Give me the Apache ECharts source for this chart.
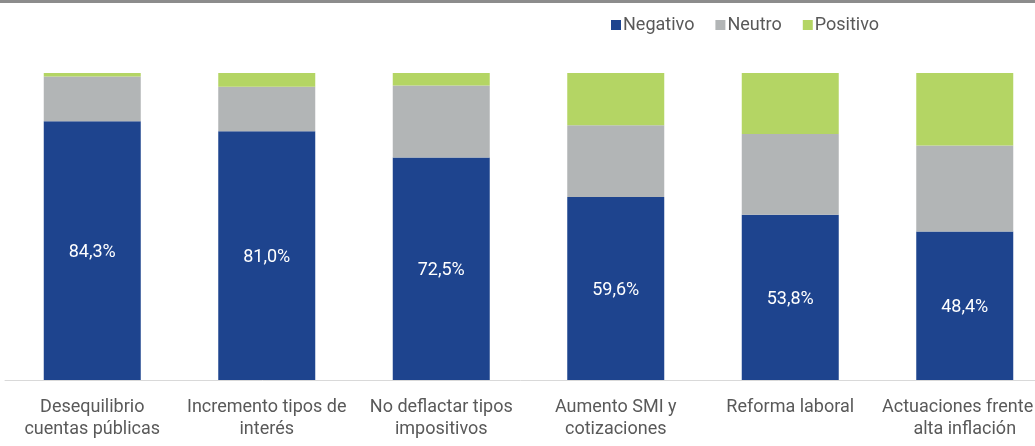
<!DOCTYPE html>
<html>
<head>
<meta charset="utf-8">
<script src="https://cdn.jsdelivr.net/npm/echarts@6/dist/echarts.min.js"></script>
<style>
  html, body { margin: 0; padding: 0; background: #fff; }
  #chart { width: 1035px; height: 446px; }
</style>
</head>
<body>
<div id="chart"></div>
<script>
// categorias y porcentajes
var categories = [
  'Desequilibrio\ncuentas públicas',
  'Incremento tipos de\ninterés',
  'No deflactar tipos\nimpositivos',
  'Aumento SMI y\ncotizaciones',
  'Reforma laboral',
  'Actuaciones frente a\nalta inflación'
];
var negativo = [84.3, 81.0, 72.5, 59.6, 53.8, 48.4];
var neutro   = [14.6, 14.5, 23.4, 23.4, 26.3, 28.0];
var positivo = [1.1, 4.5, 4.1, 17.0, 19.9, 23.6];

var chart = echarts.init(document.getElementById('chart'));

function fmt(v) {
  return v.toFixed(1).replace('.', ',') + '%';
}

chart.setOption({
  animation: false,
  color: ['#1E448E', '#B2B5B6', '#B4D564'],
  textStyle: { fontFamily: 'Roboto' },
  graphic: [{
    type: 'rect',
    left: 0, top: 0,
    shape: { width: 1035, height: 3 },
    style: { fill: '#8C8C8C' }
  }],
  legend: {
    left: 606,
    top: 11,
    itemWidth: 10,
    itemHeight: 10,
    itemGap: 21,
    icon: 'rect',
    textStyle: { color: '#595959', fontSize: 18, padding: [0, 0, 0, -3] },
    data: ['Negativo', 'Neutro', 'Positivo']
  },
  grid: {
    left: 5,
    top: 73,
    bottom: 66,
    width: 1047,
    outerBoundsMode: 'none',
    containLabel: false
  },
  xAxis: {
    type: 'category',
    data: categories,
    axisTick: { show: false },
    axisLine: { lineStyle: { color: '#D9D9D9', width: 1 } },
    axisLabel: {
      color: '#595959',
      fontSize: 18,
      lineHeight: 22,
      margin: 16,
      interval: 0,
      hideOverlap: false
    }
  },
  yAxis: {
    type: 'value',
    min: 0,
    max: 100,
    show: false,
    splitLine: { show: false }
  },
  series: [
    {
      name: 'Negativo',
      type: 'bar',
      stack: 'total',
      barWidth: 97,
      data: negativo,
      label: {
        show: true,
        position: 'inside',
        color: '#fff',
        fontSize: 18,
        offset: [0, 2],
        formatter: function (p) { return fmt(p.value); }
      }
    },
    {
      name: 'Neutro',
      type: 'bar',
      stack: 'total',
      barWidth: 97,
      data: neutro
    },
    {
      name: 'Positivo',
      type: 'bar',
      stack: 'total',
      barWidth: 97,
      data: positivo
    }
  ]
});
</script>
</body>
</html>
